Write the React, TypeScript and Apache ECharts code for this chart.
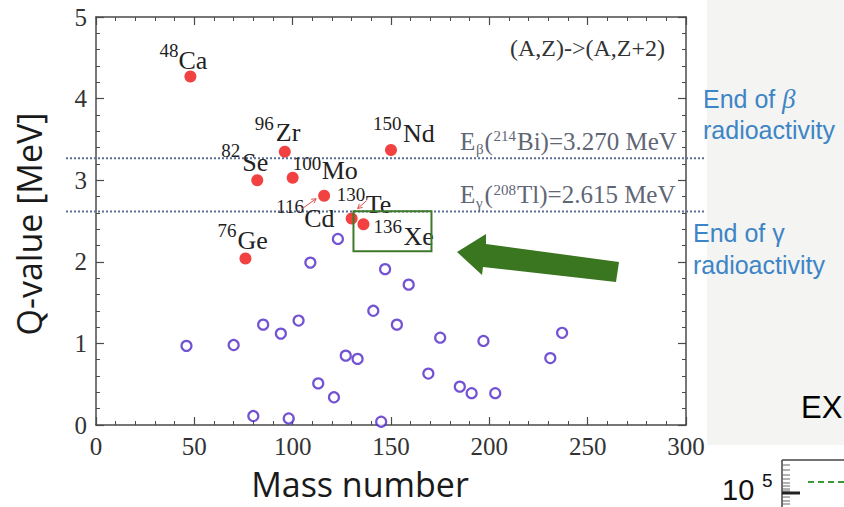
import React, { useEffect, useRef } from "react";
import * as echarts from "echarts";

// ---- data ----
const massTicks = [0, 50, 100, 150, 200, 250, 300];
const qTicks = [0, 1, 2, 3, 4, 5];

const bbMass = [48, 76, 82, 96, 100, 116, 130, 136, 150];
const bbQ = [4.27, 2.04, 3.0, 3.35, 3.03, 2.81, 2.53, 2.46, 3.37];
const bbElement = ["Ca", "Ge", "Se", "Zr", "Mo", "Cd", "Te", "Xe", "Nd"];

const otherMass = [46, 70, 80, 85, 94, 98, 103, 109, 113, 121, 123, 127, 133, 141, 145, 147, 153, 159, 169, 175, 185, 191, 197, 203, 231, 237];
const otherQ = [0.97, 0.98, 0.11, 1.23, 1.12, 0.08, 1.28, 1.99, 0.51, 0.34, 2.28, 0.85, 0.81, 1.4, 0.04, 1.91, 1.23, 1.72, 0.63, 1.07, 0.47, 0.39, 1.03, 0.39, 0.82, 1.13];

const bgQ = [3.27, 2.615];
const bgSub = ["β", "γ"];
const bgMass = ["214", "208"];
const bgRest = ["Bi)=3.270 MeV", "Tl)=2.615 MeV"];

// ---- layout (pixel offsets of labels relative to their point) ----
const LABEL_OFFSET: Record<string, number[]> = {
  Ca: [-31, -26, -12, -16],
  Ge: [-28, -28, -8, -18],
  Se: [-36, -30, -15, -18],
  Zr: [-30, -28, -9, -19],
  Mo: [0, -14, 29, -7],
  Cd: [-48, 11, -20, 23],
  Te: [-15, -24, 14, -14],
  Xe: [10, 2, 40, 12],
  Nd: [-18, -27, 12, -17],
};

const SERIF = "'Liberation Serif', 'Times New Roman', serif";
const SANS = "'Liberation Sans', Arial, sans-serif";
const AXIS_COLOR = "#4a4a4a";
const TXT = "#333";

function txt(text: string, x: number, y: number, size: number, fill: string, family: string, extra: any = {}) {
  return {
    type: "text",
    x,
    y,
    z: 50,
    silent: true,
    ...extra,
    style: { text, fontSize: size, fontFamily: family, fill, align: "left", verticalAlign: "middle", ...(extra.style || {}) },
  };
}

function arrow(x1: number, y1: number, x2: number, y2: number, color: string) {
  const ang = Math.atan2(y2 - y1, x2 - x1);
  const L = 5;
  const a1 = ang + Math.PI - 0.5;
  const a2 = ang + Math.PI + 0.5;
  return [
    { type: "line", z: 50, silent: true, shape: { x1, y1, x2, y2 }, style: { stroke: color, lineWidth: 1 } },
    {
      type: "polyline",
      z: 50,
      silent: true,
      shape: { points: [[x2 + L * Math.cos(a1), y2 + L * Math.sin(a1)], [x2, y2], [x2 + L * Math.cos(a2), y2 + L * Math.sin(a2)]] },
      style: { stroke: color, lineWidth: 1, fill: "none" },
    },
  ];
}

function axisCommon(show: boolean, pos: string) {
  return {
    axisLine: { show: true, onZero: false, lineStyle: { color: AXIS_COLOR, width: 1.5 } },
    axisTick: { show: true, inside: true, length: 8, lineStyle: { color: AXIS_COLOR, width: 1.2 } },
    minorTick: { show: true, splitNumber: 5, length: 4, lineStyle: { color: AXIS_COLOR, width: 1 } },
    splitLine: { show: false },
    axisLabel: { show, fontFamily: SERIF, fontSize: 25, color: TXT, margin: 9 },
    position: pos,
  };
}

export default function App() {
  const ref = useRef<HTMLDivElement>(null);
  useEffect(() => {
    if (!ref.current) return;
    const chart = echarts.init(ref.current, null, { renderer: "svg" });
    const gridL = 96, gridR = 158, gridT = 17, gridB = 82;
    chart.setOption({
      animation: false,
      backgroundColor: "#ffffff",
      grid: { left: gridL, right: gridR, top: gridT, bottom: gridB },
      xAxis: [
        { type: "value", min: massTicks[0], max: massTicks[massTicks.length - 1], interval: massTicks[1] - massTicks[0], ...axisCommon(true, "bottom") },
        { type: "value", min: massTicks[0], max: massTicks[massTicks.length - 1], interval: massTicks[1] - massTicks[0], ...axisCommon(false, "top") },
      ],
      yAxis: [
        { type: "value", min: qTicks[0], max: qTicks[qTicks.length - 1], interval: qTicks[1] - qTicks[0], ...axisCommon(true, "left") },
        { type: "value", min: qTicks[0], max: qTicks[qTicks.length - 1], interval: qTicks[1] - qTicks[0], ...axisCommon(false, "right") },
      ],
      series: [
        {
          type: "scatter",
          xAxisIndex: 0,
          yAxisIndex: 0,
          silent: true,
          symbol: "circle",
          symbolSize: 10,
          z: 3,
          itemStyle: { color: "#ffffff", borderColor: "#5028c8", borderWidth: 2.2 },
          data: otherMass.map((m, i) => [m, otherQ[i]]),
        },
        {
          type: "scatter",
          xAxisIndex: 0,
          yAxisIndex: 0,
          silent: true,
          symbol: "circle",
          symbolSize: 12,
          z: 4,
          itemStyle: { color: "#ee1111" },
          data: bbMass.map((m, i) => [m, bbQ[i]]),
        },
      ],
    });

    const px = (x: number, y: number) => chart.convertToPixel({ xAxisIndex: 0, yAxisIndex: 0 }, [x, y]) as number[];
    const W = 844;
    const plotRight = W - gridR;
    const g: any[] = [];

    // slide background on the right
    g.push({ type: "rect", z: -10, silent: true, shape: { x: 707, y: 0, width: 137, height: 445 }, style: { fill: "#f4f4f2" } });

    // threshold lines and texts
    bgQ.forEach((q, i) => {
      const [, y] = px(0, q);
      g.push({
        type: "line",
        z: 5,
        silent: true,
        shape: { x1: gridL - 30, y1: y, x2: plotRight + 19, y2: y },
        style: { stroke: "#5b6f95", lineWidth: 2, lineDash: [2, 2] },
      });
      const c = "#5f6675";
      const base = plotRight - 226;
      g.push(txt("E", base, y - 17, 25, c, SERIF));
      g.push(txt(bgSub[i], base + 16, y - 9, 15, c, SERIF));
      g.push(txt("(", base + 24.5, y - 17, 25, c, SERIF));
      g.push(txt(bgMass[i], base + 33.5, y - 22, 15, c, SERIF));
      g.push(txt(bgRest[i], base + 57, y - 17, 25, c, SERIF));
    });

    g.push(txt("(A,Z)->(A,Z+2)", 510, 48, 24, "#333", SERIF));

    // isotope labels
    bbElement.forEach((el, i) => {
      const [x, y] = px(bbMass[i], bbQ[i]);
      const o = LABEL_OFFSET[el];
      g.push(txt(String(bbMass[i]), x + o[0], y + o[1], 19, "#222", SERIF));
      g.push(txt(el, x + o[2], y + o[3], 26, "#222", SERIF));
      if (el === "Cd") g.push(...arrow(x - 22, y + 13, x - 8, y + 3, "#e0504a"));
      if (el === "Te") g.push(...arrow(x + 15, y - 18, x + 6, y - 10, "#e0504a"));
      if (el === "Xe")
        g.push({
          type: "rect",
          z: 60,
          silent: true,
          shape: { x: x - 10, y: y - 13, width: 78, height: 40 },
          style: { fill: "none", stroke: "#3f7a2a", lineWidth: 2 },
        });
    });

    // big green arrow
    g.push({
      type: "polygon",
      z: 60,
      silent: true,
      shape: { points: [[457, 252], [486, 234], [486, 244], [619, 262], [616, 282], [483, 267], [482, 275]] },
      style: { fill: "#3a7520" },
    });

    // axis titles
    g.push(txt("Mass number", 360, 484, 34, "#1a1a1a", "'Open Sans', sans-serif", { style: { align: "center" } }));
    g.push(txt("Q-value [MeV]", 29, 224, 34, "#1a1a1a", "'Open Sans', sans-serif", { rotation: Math.PI / 2, style: { align: "center" } }));

    // right-hand slide annotations
    const blue = "#3d85c6";
    g.push(txt("End of ", 703, 99, 25, blue, SANS));
    g.push(txt("β", 782, 99, 27, blue, SERIF, { style: { fontStyle: "italic" } }));
    g.push(txt("radioactivity", 703, 130, 25, blue, SANS));
    g.push(txt("End of γ", 693, 233, 25, blue, SANS));
    g.push(txt("radioactivity", 693, 265, 25, blue, SANS));

    g.push(txt("EX", 801, 407, 31, "#000", SANS));
    g.push(txt("10", 722, 490, 29, "#111", SANS));
    g.push(txt("5", 762, 480, 19, "#111", SANS));
    g.push({ type: "line", silent: true, shape: { x1: 782, y1: 460, x2: 844, y2: 460 }, style: { stroke: "#444", lineWidth: 1.5 } });
    g.push({ type: "line", silent: true, shape: { x1: 782, y1: 460, x2: 782, y2: 507 }, style: { stroke: "#444", lineWidth: 1.5 } });
    [465, 470, 475, 479, 483, 486, 489, 491, 497, 501, 504].forEach((ty) =>
      g.push({ type: "line", silent: true, shape: { x1: 782, y1: ty, x2: 790, y2: ty }, style: { stroke: "#666", lineWidth: 1 } })
    );
    g.push({ type: "line", silent: true, shape: { x1: 782, y1: 493, x2: 800, y2: 493 }, style: { stroke: "#222", lineWidth: 3 } });
    g.push({ type: "line", silent: true, shape: { x1: 808, y1: 482, x2: 844, y2: 482 }, style: { stroke: "#3a9a3a", lineWidth: 2, lineDash: [6, 4] } });

    chart.setOption({ graphic: g });

    return () => chart.dispose();
  }, []);
  return <div ref={ref} style={{ position: "fixed", left: 0, top: 0, width: 844, height: 507 }} />;
}
